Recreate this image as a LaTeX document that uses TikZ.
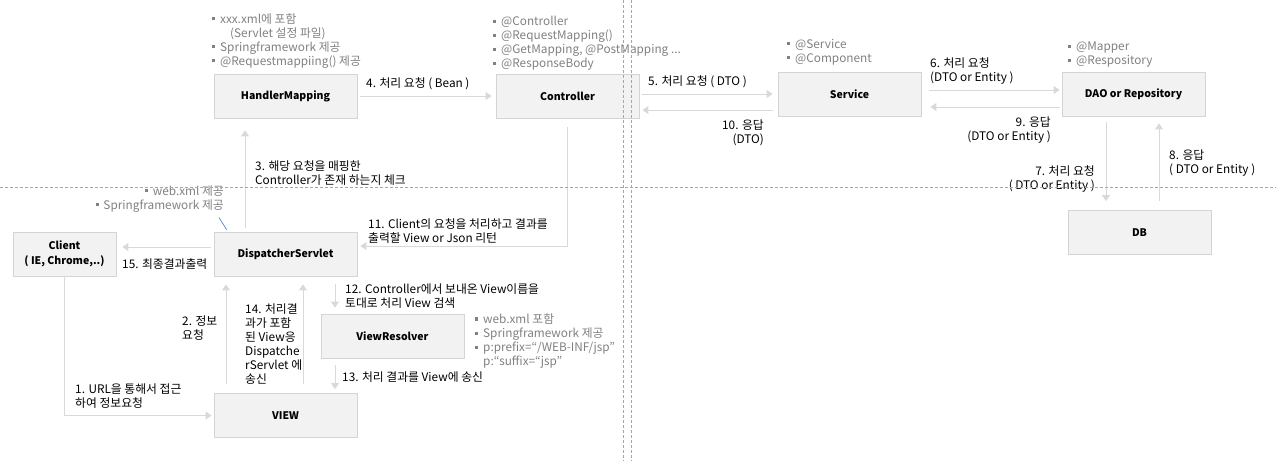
\documentclass[tikz,border=0pt]{standalone}
\usepackage{fontspec}
\setmainfont{Noto Sans CJK KR}
\usetikzlibrary{arrows.meta}
\definecolor{boxfill}{HTML}{F2F2F2}
\definecolor{boxline}{HTML}{D4D4D4}
\definecolor{arrowgray}{HTML}{D9D9D9}
\definecolor{notegray}{HTML}{808080}
\definecolor{dashgray}{HTML}{A6A6A6}
\definecolor{pointblue}{HTML}{4472C4}
\newcommand{\bul}{\makebox[9pt][l]{\hspace{1pt}\raisebox{3pt}{\rule{3pt}{3pt}}}}
\tikzset{
  box/.style={rectangle, draw=boxline, fill=boxfill, line width=0.8pt,
    minimum width=143pt, minimum height=44pt, inner sep=0pt,
    font=\fontsize{10.5}{15}\selectfont\bfseries},
  lbl/.style={inner sep=0pt, align=left, font=\fontsize{11.8}{14}\selectfont},
  note/.style={lbl, text=notegray},
  flow/.style={draw=arrowgray, line width=1pt, -{Triangle[width=8pt,length=6pt]},
    shorten >=4pt, shorten <=4pt},
  pointer/.style={draw=pointblue, line width=0.6pt},
  divider/.style={draw=dashgray, line width=0.6pt, dash pattern=on 3pt off 2pt}
}
\begin{document}
\begin{tikzpicture}[x=1pt,y=-1pt]
  \useasboundingbox (0,0) rectangle (1276,461);

  % boxes
  \node[box] (hm) at (285.5,96) {HandlerMapping};
  \node[box] (ctrl) at (567.5,96) {Controller};
  \node[box] (svc) at (849.5,94) {Service};
  \node[box] (dao) at (1133.5,94) {DAO or Repository};
  \node[box] (db) at (1139.5,232.5) {DB};
  \node[box, minimum width=103pt, align=center] (client) at (64.5,254) {Client\\( IE, Chrome,..)};
  \node[box] (ds) at (285.5,254) {DispatcherServlet};
  \node[box] (vr) at (392.5,336) {ViewResolver};
  \node[box] (view) at (285.5,415.5) {VIEW};

  % notes
  \node[note, anchor=west] (hmnote) at (211,41) {\bul xxx.xml에 포함\\\hspace*{19pt}(Servlet 설정 파일)\\\bul Springframework 제공\\\bul @Requestmappiing() 제공};
  \node[note, anchor=west] (ctrlnote) at (492,43.5) {\bul @Controller\\\bul @RequestMapping()\\\bul @GetMapping, @PostMapping ...\\\bul @ResponseBody};
  \node[note, anchor=west] (svcnote) at (786,52) {\bul @Service\\\bul @Component};
  \node[note, anchor=west] (daonote) at (1067,55) {\bul @Mapper\\\bul @Respository};
  \node[note, anchor=west] (vrnote) at (474,341) {\bul web.xml 포함\\\bul Springframework 제공\\\bul p:prefix=“/WEB-INF/jsp”\\\hspace*{9pt}p:“suffix=“jsp”};
  \node[note, anchor=east, align=right] (dsnote) at (224,199) {\bul web.xml 제공\\\bul Springframework 제공};
  \draw[pointer] ([xshift=-5pt,yshift=-5pt]dsnote.south east) -- ([xshift=13pt,yshift=2pt]ds.north west);

  % flows
  \draw[flow, shorten <=3pt] (hm) -- (ctrl);
  \draw[flow, shorten <=3pt, shorten >=5pt] ([yshift=2pt]ctrl.east) -- ([yshift=2pt]ctrl.east -| svc.west);
  \draw[flow, shorten <=5pt, shorten >=3pt] ([yshift=-16pt]svc.west) -- ([yshift=-16pt]svc.west -| ctrl.east);
  \draw[flow, shorten <=8pt, shorten >=2pt] ([yshift=4pt]svc.east) -- ([yshift=4pt]svc.east -| dao.west);
  \draw[flow, shorten <=2pt, shorten >=9pt] ([yshift=-13pt]dao.west) -- ([yshift=-13pt]dao.west -| svc.east);
  \draw[flow, shorten <=6pt, shorten >=9pt] ([xshift=-27.5pt]dao.south) -- ([xshift=-27.5pt]dao.south |- db.north);
  \draw[flow, shorten <=9pt, shorten >=7pt] ([xshift=19.5pt]db.north) -- ([xshift=19.5pt]db.north |- dao.south);
  \draw[flow, shorten >=12pt] ([xshift=-40.5pt]ds.north) -- ([xshift=-40.5pt]ds.north |- hm.south);
  \draw[flow, shorten <=9pt, shorten >=3pt] (ctrl.south) |- ([yshift=8pt]ds.east);
  \draw[flow, shorten <=3pt, shorten >=6pt] ([yshift=7pt]ds.west) -- ([yshift=7pt]ds.west -| client.east);
  \draw[flow, shorten <=8pt, shorten >=6pt] ([xshift=49.5pt]ds.south) -- ([xshift=49.5pt]ds.south |- vr.north);
  \draw[flow, shorten <=7pt] ([xshift=-57.5pt]vr.south) -- ([xshift=-57.5pt]vr.south |- view.north);
  \draw[flow, shorten <=9pt, shorten >=8pt] ([xshift=-59.5pt]view.north) -- ([xshift=-59.5pt]view.north |- ds.south);
  \draw[flow, shorten <=9pt, shorten >=8pt] ([xshift=17.5pt]view.north) -- ([xshift=17.5pt]view.north |- ds.south);
  \draw[flow, shorten <=0pt, shorten >=2pt] (client.south) |- (view.west);

  % flow labels
  \node[lbl, anchor=west] (l4) at (366,84) {4. 처리 요청 ( Bean )};
  \node[lbl, anchor=west] (l5) at (648,82) {5. 처리 요청 ( DTO )};
  \node[lbl, anchor=east, align=right] (l10) at (764,133) {10. 응답\\(DTO)};
  \node[lbl, anchor=west] (l6) at (930,71) {6. 처리 요청\\(DTO or Entity )};
  \node[lbl, anchor=east, align=right] (l9) at (1051,130) {9. 응답\\(DTO or Entity )};
  \node[lbl, anchor=east, align=right] (l7) at (1095,179) {7. 처리 요청\\( DTO or Entity )};
  \node[lbl, anchor=west] (l8) at (1169,163) {8. 응답\\( DTO or Entity )};
  \node[lbl, anchor=west] (l3) at (255,173) {3. 해당 요청을 매핑한\\Controller가 존재 하는지 체크};
  \node[lbl, anchor=west] (l11) at (368,231) {11. Client의 요청을 처리하고 결과를\\출력할 View or Json 리턴};
  \node[lbl, anchor=west] (l15) at (122,264) {15. 최종결과출력};
  \node[lbl, anchor=west] (l12) at (345,296) {12. Controller에서 보내온 View이름을\\토대로 처리 View 검색};
  \node[lbl, anchor=west] (l13) at (342,377) {13. 처리 결과를 View에 송신};
  \node[lbl, anchor=west] (l2) at (182,328) {2. 정보\\요청};
  \node[lbl, anchor=west] (l14) at (245,344) {14. 처리결\\과가 포함\\된 View응\\Dispatche\\rServlet 에\\송신};
  \node[lbl, anchor=west] (l1) at (75,396) {1. URL을 통해서 접근\\하여 정보요청};

  % dividers
  \draw[divider] (0,187) -- (1276,187);
  \draw[divider] (623,0) -- (623,461);
  \draw[divider] (631,0) -- (631,461);
\end{tikzpicture}
\end{document}
